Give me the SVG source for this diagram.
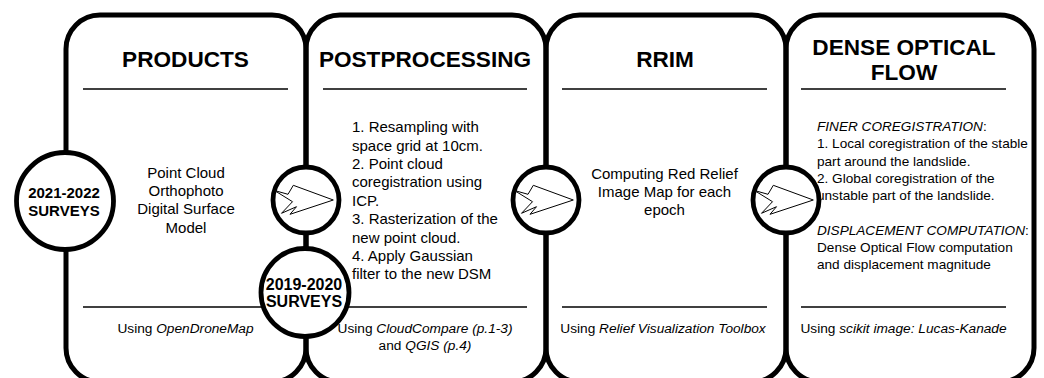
<svg xmlns="http://www.w3.org/2000/svg" width="1044" height="378" viewBox="0 0 1044 378">
  <defs>
    <style>
      .panel { fill: none; stroke: #000; stroke-width: 5; }
      .sep { stroke: #000; stroke-width: 1.6; }
      text { font-family: "Liberation Sans", Arial, sans-serif; fill: #000; }
      .title { font-size: 22.6px; font-weight: bold; text-anchor: middle; }
      .body { font-size: 15px; }
      .mid { text-anchor: middle; }
      .small { font-size: 13.6px; }
      .note { font-size: 13.7px; text-anchor: middle; }
      .it { font-style: italic; }
      .hub { fill: #fff; stroke: #000; stroke-width: 4.8; }
      .survey { font-weight: bold; text-anchor: middle; }
      .jump { fill: #fff; stroke: #000; stroke-width: 1; stroke-linejoin: miter; }
    </style>
    <!-- zigzag-tailed arrow drawn inside each step circle, centred on (0,0) -->
    <path id="stepArrow" class="jump" d="M -31.5,-9.5 L -18,-5.7 L -12.7,-14.7 L 27.3,0 L -16,14.3 L -9.5,6.7 L -24.5,13.3 L -13.5,1.7 Z"/>
  </defs>

  <rect width="1044" height="378" fill="#fff"/>

  <!-- stage panels -->
  <g id="panel-products">
    <rect class="panel" x="66" y="15" width="240" height="367" rx="34" ry="34"/>
    <text class="title" x="185.5" y="66.7">PRODUCTS</text>
    <line class="sep" x1="83" y1="89" x2="288" y2="89"/>
    <text class="body mid" x="186" y="177.7">Point Cloud</text>
    <text class="body mid" x="186" y="196">Orthophoto</text>
    <text class="body mid" x="186" y="214.3">Digital Surface</text>
    <text class="body mid" x="186" y="232.7">Model</text>
    <line class="sep" x1="83" y1="307" x2="288" y2="307"/>
    <text class="note" x="185.5" y="333.3">Using <tspan class="it">OpenDroneMap</tspan></text>
  </g>

  <g id="panel-postprocessing">
    <rect class="panel" x="306" y="15" width="240" height="367" rx="34" ry="34"/>
    <text class="title" x="425" y="66.7">POSTPROCESSING</text>
    <line class="sep" x1="323" y1="89" x2="527" y2="89"/>
    <text class="body" x="352" y="132.3">1. Resampling with</text>
    <text class="body" x="352" y="150.7">space grid at 10cm.</text>
    <text class="body" x="352" y="169">2. Point cloud</text>
    <text class="body" x="352" y="187.4">coregistration using</text>
    <text class="body" x="352" y="205.8">ICP.</text>
    <text class="body" x="352" y="224.2">3. Rasterization of the</text>
    <text class="body" x="352" y="242.5">new point cloud.</text>
    <text class="body" x="352" y="260.9">4. Apply Gaussian</text>
    <text class="body" x="352" y="279.3">filter to the new DSM</text>
    <line class="sep" x1="323" y1="307" x2="527" y2="307"/>
    <text class="note" x="425" y="333.3">Using <tspan class="it">CloudCompare (p.1-3)</tspan></text>
    <text class="note" x="425" y="350">and <tspan class="it">QGIS (p.4)</tspan></text>
  </g>

  <g id="panel-rrim">
    <rect class="panel" x="546" y="15" width="240" height="367" rx="34" ry="34"/>
    <text class="title" x="665" y="66.7">RRIM</text>
    <line class="sep" x1="562" y1="89" x2="767" y2="89"/>
    <text class="body mid" x="664.5" y="178.7">Computing Red Relief</text>
    <text class="body mid" x="664.5" y="197">Image Map for each</text>
    <text class="body mid" x="664.5" y="215.3">epoch</text>
    <line class="sep" x1="562" y1="307" x2="767" y2="307"/>
    <text class="note" x="663" y="333.3">Using <tspan class="it">Relief Visualization Toolbox</tspan></text>
  </g>

  <g id="panel-optical-flow">
    <rect class="panel" x="786" y="15" width="248" height="367" rx="34" ry="34"/>
    <text class="title" x="904" y="54.5">DENSE OPTICAL</text>
    <text class="title" x="904" y="80">FLOW</text>
    <line class="sep" x1="801" y1="89" x2="1006" y2="89"/>
    <text class="small" x="817" y="131"><tspan class="it">FINER COREGISTRATION</tspan>:</text>
    <text class="small" x="817" y="148.3">1. Local coregistration of the stable</text>
    <text class="small" x="817" y="165.6">part around the landslide.</text>
    <text class="small" x="817" y="182.9">2. Global coregistration of the</text>
    <text class="small" x="817" y="200.2">unstable part of the landslide.</text>
    <text class="small" x="817" y="234.8"><tspan class="it">DISPLACEMENT COMPUTATION</tspan>:</text>
    <text class="small" x="817" y="252.1">Dense Optical Flow computation</text>
    <text class="small" x="817" y="269.4">and displacement magnitude</text>
    <line class="sep" x1="801" y1="307" x2="1006" y2="307"/>
    <text class="note" x="903.5" y="333.3">Using <tspan class="it">scikit image: Lucas-Kanade</tspan></text>
  </g>

  <!-- survey inputs -->
  <g id="survey-2021-2022">
    <circle class="hub" cx="65" cy="201" r="48.5"/>
    <text class="survey" font-size="15" x="64" y="198">2021-2022</text>
    <text class="survey" font-size="15" x="64" y="216">SURVEYS</text>
  </g>

  <!-- step transitions between panels -->
  <g id="connectors">
    <circle class="hub" cx="306" cy="200" r="33"/>
    <use href="#stepArrow" x="306" y="200"/>
    <circle class="hub" cx="546" cy="200" r="33"/>
    <use href="#stepArrow" x="546" y="200"/>
    <circle class="hub" cx="786" cy="200" r="33"/>
    <use href="#stepArrow" x="786" y="200"/>
  </g>

  <g id="survey-2019-2020">
    <circle class="hub" cx="305" cy="292.5" r="44"/>
    <text class="survey" font-size="16" x="304" y="290">2019-2020</text>
    <text class="survey" font-size="16" x="304" y="307">SURVEYS</text>
  </g>
</svg>
